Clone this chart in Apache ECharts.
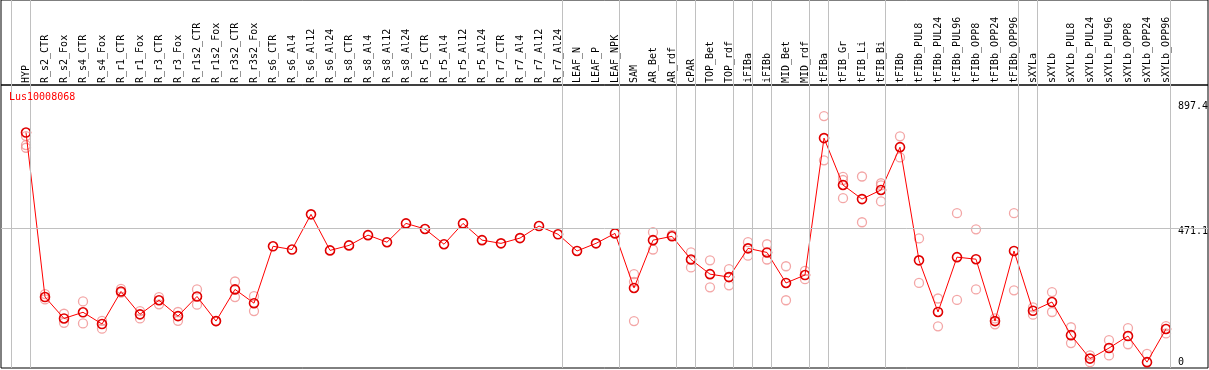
<!DOCTYPE html>
<html>
<head>
<meta charset="utf-8">
<script src="https://cdn.jsdelivr.net/npm/echarts@6/dist/echarts.min.js"></script>
<style>html,body{margin:0;padding:0;background:#fff;}#c{width:1209px;height:370px;}</style>
</head>
<body>
<div id="c"></div>
<script>
const geneName = 'Lus10008068';
const categories = ['HYP','R_s2_CTR','R_s2_Fox','R_s4_CTR','R_s4_Fox','R_r1_CTR','R_r1_Fox','R_r3_CTR','R_r3_Fox','R_r1s2_CTR','R_r1s2_Fox','R_r3s2_CTR','R_r3s2_Fox','R_s6_CTR','R_s6_Al4','R_s6_Al12','R_s6_Al24','R_s8_CTR','R_s8_Al4','R_s8_Al12','R_s8_Al24','R_r5_CTR','R_r5_Al4','R_r5_Al12','R_r5_Al24','R_r7_CTR','R_r7_Al4','R_r7_Al12','R_r7_Al24','LEAF_N','LEAF_P','LEAF_NPK','SAM','AR_Bet','AR_rdf','cPAR','TOP_Bet','TOP_rdf','iFIBa','iFIBb','MID_Bet','MID_rdf','tFIBa','tFIB_Gr','tFIB_Li','tFIB_Bi','tFIBb','tFIBb_PUL8','tFIBb_PUL24','tFIBb_PUL96','tFIBb_OPP8','tFIBb_OPP24','tFIBb_OPP96','sXYLa','sXYLb','sXYLb_PUL8','sXYLb_PUL24','sXYLb_PUL96','sXYLb_OPP8','sXYLb_OPP24','sXYLb_OPP96'];
const meanValues = [796,235,162,183,143,254,176,224,170,237,153,261,214,408,397,517,394,411,446,422,486,467,415,486,429,418,436,477,449,392,418,452,266,429,442,363,313,303,401,387,283,310,777,617,569,600,746,360,184,371,364,153,392,188,218,105,25,61,102,13,126];
const replicateValues = [[784,753,744],[245,227],[178,147],[220,145],[154,127],[263,250],[187,162],[235,210],[184,154],[261,209],[153],[288,235],[238,187],
[],[],[],[],[],[],[],[],[],[],[],[],[],[],[],[],[],[],[],
[313,287,153],[456,397],[447],[387,336],[360,268],[330,275],[422,376],[415,363],[340,224],[324,296],[852,701],[645,634,572],[646,490],[623,616,561],[783,711],
[435,283],[230,135],[521,225],[466,261],[162,142],[521,258],[200,175],[252,184],[132,78],[36,13],[88,36],[129,74],[41,-12],[136,111]];
const groupEnds = [-1,0,28,31,34,35,37,38,39,41,42,45,52,53,60];
const yTickValues = [0, 471.1, 897.4];
const yTickLabels = ['0', '471.1', '897.4'];
const gridLineValue = 471.1;

const xMin = -25/19, xMax = -25/19 + 1207/19;
const lineOffset = 4/19;
const mono = 'DejaVu Sans Mono';

const meanData = meanValues.map((v,i)=>[i,v]);
const repData = [];
replicateValues.forEach((arr,i)=>arr.forEach(v=>repData.push([i,v])));

const vLines = groupEnds.map(i=>({xAxis: i + lineOffset}));

const chart = echarts.init(document.getElementById('c'), null, {renderer:'canvas'});
chart.setOption({
  animation: false,
  backgroundColor: '#fff',
  title: {text: geneName, left: 9, top: 92, padding: 0,
    textStyle: {color:'#ff0000', fontFamily: mono, fontSize: 10, fontWeight: 'normal'}},
  grid: [
    {left: 1, right: 1, top: 0, height: 85, show: true, borderColor: '#000', borderWidth: 1, backgroundColor: 'transparent', outerBoundsMode: 'none', containLabel: false},
    {left: 1, right: 1, top: 85, bottom: 2, show: true, borderColor: '#000', borderWidth: 1, backgroundColor: 'transparent', outerBoundsMode: 'none', containLabel: false}
  ],
  xAxis: [
    {type:'value', gridIndex:0, min:xMin, max:xMax, position:'bottom',
      axisLine:{show:false}, axisTick:{show:false}, splitLine:{show:false},
      axisLabel:{inside:true, rotate:90, margin:2, customValues: categories.map((c,i)=>i),
        formatter:(v)=>categories[Math.round(v)], fontFamily:mono, fontSize:10, color:'#000', showMinLabel:true, showMaxLabel:true}},
    {type:'value', gridIndex:1, min:xMin, max:xMax, show:false}
  ],
  yAxis: [
    {type:'value', gridIndex:0, min:0, max:1, show:false},
    {type:'value', gridIndex:1, min:-7, max:958, position:'right',
      axisLine:{show:false}, axisTick:{show:false}, splitLine:{show:false},
      axisLabel:{inside:true, align:'left', margin:30, customValues: yTickValues,
        verticalAlign:'middle',
        formatter:(v)=>{
          const idx = yTickValues.findIndex(t=>Math.abs(t-v)<1e-6);
          const s = yTickLabels[idx];
          return v===0 ? '{t|'+s+'}\n{g| }' : '{g| }\n{t|'+s+'}';
        },
        rich:{t:{fontFamily:mono, fontSize:10, lineHeight:10, color:'#000'}, g:{fontSize:6, lineHeight:8}},
        showMinLabel:true, showMaxLabel:true}}
  ],
  series: [
    {type:'scatter', xAxisIndex:0, yAxisIndex:0, data:[], z:1, silent:true,
      markLine:{silent:true, symbol:'none', animation:false, label:{show:false},
        lineStyle:{color:'#c0c0c0', width:1, type:'solid'}, data: vLines}},
    {type:'scatter', xAxisIndex:1, yAxisIndex:1, data:[], z:1, silent:true,
      markLine:{silent:true, symbol:'none', animation:false, label:{show:false},
        lineStyle:{color:'#c0c0c0', width:1, type:'solid'},
        data: vLines.concat([{yAxis: gridLineValue}])}},
    {type:'scatter', xAxisIndex:1, yAxisIndex:1, data: repData, z:2, symbol:'circle', symbolSize:9,
      itemStyle:{color:'rgba(0,0,0,0)', borderColor:'#f09090', borderWidth:1.3}},
    {type:'line', xAxisIndex:1, yAxisIndex:1, data: meanData, z:3, symbol:'circle', symbolSize:9, showAllSymbol:true,
      lineStyle:{color:'#ff0000', width:1},
      itemStyle:{color:'rgba(0,0,0,0)', borderColor:'#e00000', borderWidth:1.6}}
  ]
});
</script>
</body>
</html>
